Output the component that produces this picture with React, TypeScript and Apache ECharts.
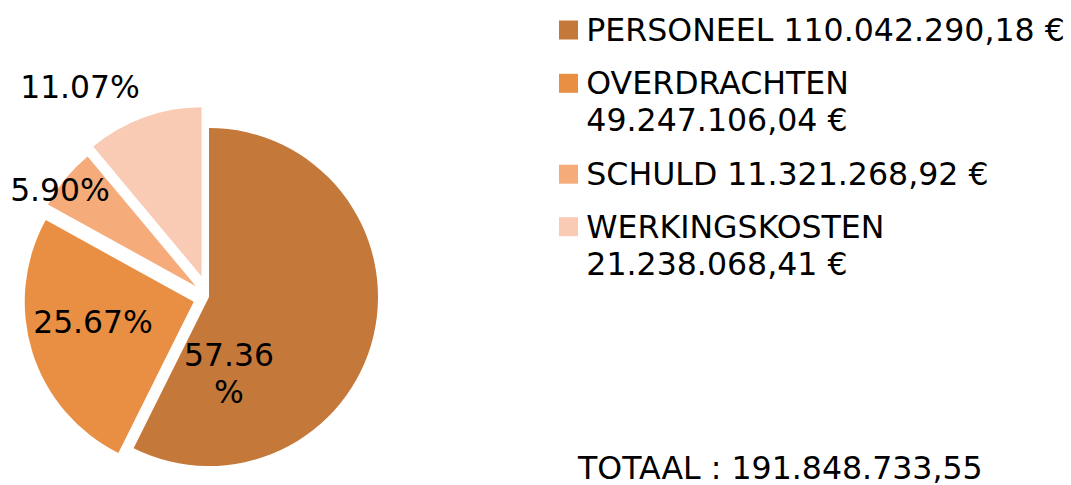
import React, { useEffect, useRef } from 'react';
import * as echarts from 'echarts';

const categories = ['PERSONEEL', 'OVERDRACHTEN', 'SCHULD', 'WERKINGSKOSTEN'];
const amounts = [110042290.18, 49247106.04, 11321268.92, 21238068.41];
const totalCaption = 'TOTAAL';

const colors = ['#C4783A', '#E98F43', '#F6AB7A', '#F9CAB4'];
const explode = [0, 16, 17, 22];
const legendLines = [1, 2, 1, 2];
const legendMarkerY = [30, 83.3, 174.2, 226.7];
const labelPos = [[229, 373], [93, 322], [60, 190], [80, 87]];
const labelBreak = [true, false, false, false];

const FONT = 'DejaVu Sans';
const FS = 31.6;
const LH = 37;

function fmtNl(v: number): string {
  const [i, d] = v.toFixed(2).split('.');
  return i.replace(/\B(?=(\d{3})+(?!\d))/g, '.') + ',' + d;
}

export default function App() {
  const ref = useRef<HTMLDivElement>(null);
  useEffect(() => {
    document.body.style.margin = '0';
    if (!ref.current) return;
    const chart = echarts.init(ref.current, null, { renderer: 'svg' });
    const total = amounts.reduce((a, b) => a + b, 0);
    const cx = 209, cy = 297, R = 169;
    let cum = 0;
    const series = amounts.map((v, k) => {
      const mid = ((cum + v / 2) / total) * 2 * Math.PI;
      cum += v;
      const c = [cx + explode[k] * Math.sin(mid), cy - explode[k] * Math.cos(mid)];
      return {
        type: 'pie',
        center: c,
        radius: R,
        startAngle: 90,
        clockwise: true,
        silent: true,
        avoidLabelOverlap: false,
        emphasis: { disabled: true },
        label: {
          position: 'inside',
          fontSize: 31.4,
          fontFamily: FONT,
          color: '#000',
          lineHeight: LH,
          formatter: (p: any) => {
            const pct = ((p.value / total) * 100).toFixed(2);
            return labelBreak[k] ? pct + '\n%' : pct + '%';
          },
        },
        labelLine: { show: false },
        labelLayout: () => ({
          x: labelPos[k][0],
          y: labelPos[k][1],
          align: 'center',
          verticalAlign: 'middle',
        }),
        data: categories.map((n, i) => ({
          name: n,
          value: amounts[i],
          itemStyle: { color: i === k ? colors[i] : 'rgba(0,0,0,0)' },
          label: { show: i === k },
        })),
      };
    });

    const ICON_W = 25.6;
    const legend = categories.map((n, i) => ({
      data: [{ name: n, icon: 'path://M0,0H10V10H0Z', itemStyle: { color: colors[i], opacity: 1 } }],
      left: 559,
      top: legendMarkerY[i] - (legendLines[i] === 1 ? LH / 2 : LH * 1.5),
      orient: 'vertical',
      padding: 0,
      itemGap: 0,
      itemWidth: ICON_W,
      itemHeight: 19,
      symbolKeepAspect: true,
      selectedMode: false,
      formatter: () =>
        legendLines[i] > 1 ? `\n${n}\n${fmtNl(amounts[i])} €` : `${n} ${fmtNl(amounts[i])} €`,
      textStyle: {
        fontSize: FS,
        fontFamily: FONT,
        color: '#000',
        lineHeight: LH,
      },
    }));

    chart.setOption({
      animation: false,
      backgroundColor: '#fff',
      title: {
        text: `${totalCaption} : ${fmtNl(total)}`,
        left: 578,
        top: 468 - LH / 2,
        padding: 0,
        textStyle: { fontSize: FS, fontWeight: 'normal', fontFamily: FONT, color: '#000', lineHeight: LH },
      },
      legend,
      series,
    });
    return () => chart.dispose();
  }, []);
  return <div ref={ref} style={{ width: 1071, height: 485 }} />;
}
